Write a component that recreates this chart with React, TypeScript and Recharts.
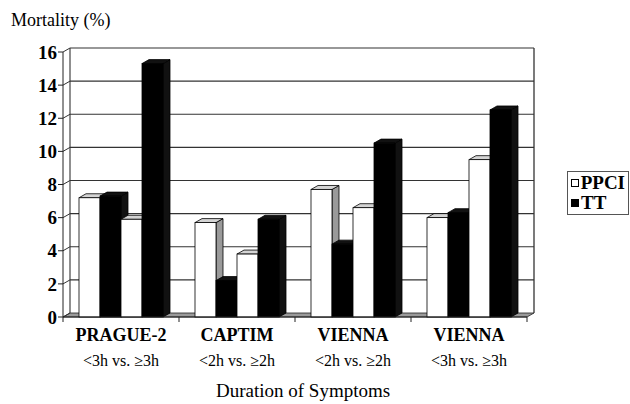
import React from "react";
import { BarChart, Bar, XAxis, YAxis, CartesianGrid } from "recharts";

const studies = ["PRAGUE-2", "CAPTIM", "VIENNA", "VIENNA"];
const cutoffs = ["<3h vs. ≥3h", "<2h vs. ≥2h", "<2h vs. ≥2h", "<3h vs. ≥3h"];
const ppciEarly = [7.2, 5.7, 7.7, 6.0];
const ttEarly = [7.3, 2.2, 4.4, 6.3];
const ppciLate = [5.9, 3.8, 6.6, 9.5];
const ttLate = [15.3, 5.9, 10.5, 12.5];
const yTicks = [0, 2, 4, 6, 8, 10, 12, 14, 16];
const legendNames = ["PPCI", "TT"];

const data = studies.map((s, i) => ({
    name: s + "|" + i,
    ppciEarly: ppciEarly[i],
    ttEarly: ttEarly[i],
    ppciLate: ppciLate[i],
    ttLate: ttLate[i]
}));

const DX = 7;
const DY = 4;
const FONT = "'Times New Roman', 'Liberation Serif', serif";

function box3d(front: string, top: string, side: string) {
    return (props: any) => {
        const { x, y, width: w, height: h } = props;
        if (!h || h <= 0) return <g />;
        return (
            <g>
                <polygon
                    points={`${x + w},${y} ${x + w + DX},${y - DY} ${x + w + DX},${y + h - DY} ${x + w},${y + h}`}
                    fill={side}
                    stroke="#000"
                    strokeWidth={0.8}
                />
                <polygon
                    points={`${x},${y} ${x + DX},${y - DY} ${x + w + DX},${y - DY} ${x + w},${y}`}
                    fill={top}
                    stroke="#000"
                    strokeWidth={0.8}
                />
                <rect x={x} y={y} width={w} height={h} fill={front} stroke="#000" strokeWidth={0.8} />
            </g>
        );
    };
}

// back wall, floor and left wall drawn from the grid's own line positions
function gridLine(props: any) {
    const { x1, x2, y1, x, y, width, height } = props;
    const isBottom = Math.abs(y1 - (y + height)) < 1;
    const isTop = Math.abs(y1 - y) < 1;
    const parts: any[] = [];
    if (isBottom) {
        parts.push(
            <polygon
                key="floor"
                points={`${x1},${y1} ${x1 + DX},${y1 - DY} ${x2 + DX},${y1 - DY} ${x2},${y1}`}
                fill="#9a9a9a"
                stroke="#222"
                strokeWidth={0.8}
            />
        );
        for (let k = 0; k <= studies.length; k++) {
            const tx = x + (k * width) / studies.length;
            parts.push(<line key={"t" + k} x1={tx} y1={y1} x2={tx} y2={y1 + 5} stroke="#222" strokeWidth={1} />);
        }
    } else {
        parts.push(<line key="l" x1={x1 + DX} y1={y1 - DY} x2={x2 + DX} y2={y1 - DY} stroke="#333" strokeWidth={1.1} />);
    }
    parts.push(<line key="d" x1={x1} y1={y1} x2={x1 + DX} y2={y1 - DY} stroke="#333" strokeWidth={1} />);
    if (isTop) {
        parts.push(<line key="bl" x1={x1 + DX} y1={y1 - DY} x2={x1 + DX} y2={y + height - DY} stroke="#333" strokeWidth={1.1} />);
        parts.push(<line key="br" x1={x2 + DX} y1={y1 - DY} x2={x2 + DX} y2={y + height - DY} stroke="#333" strokeWidth={1.3} />);
    }
    return <g key={props.key}>{parts}</g>;
}

function CategoryTick(props: any) {
    const { x, y, index } = props;
    return (
        <g>
            <text x={x} y={y + 24} textAnchor="middle" fontFamily={FONT} fontWeight="bold" fontSize={18} fill="#000">
                {studies[index]}
            </text>
            <text x={x} y={y + 49} textAnchor="middle" fontFamily={FONT} fontSize={16} fill="#000">
                {cutoffs[index]}
            </text>
        </g>
    );
}

function LegendBox() {
    const marks = ["#fff", "#000"];
    return (
        <div
            style={{
                position: "absolute",
                left: 567,
                top: 171,
                width: 54,
                border: "1px solid #555",
                padding: "1px 3px 1px 3px",
                background: "#fff",
                fontFamily: FONT,
                fontWeight: "bold",
                fontSize: 19,
                lineHeight: "20px",
                color: "#000"
            }}
        >
            {legendNames.map((n, i) => (
                <div key={n} style={{ display: "flex", alignItems: "center" }}>
                    <span
                        style={{
                            display: "inline-block",
                            width: 6,
                            height: 6,
                            border: "1px solid #000",
                            background: marks[i],
                            marginRight: 2
                        }}
                    />
                    {n}
                </div>
            ))}
        </div>
    );
}

export default function App() {
    return (
        <div style={{ position: "absolute", left: 0, top: 0, width: 630, height: 404, background: "#fff" }}>
            <div
                style={{
                    position: "absolute",
                    left: 11,
                    top: 11,
                    fontFamily: FONT,
                    fontSize: 18,
                    lineHeight: 1,
                    color: "#000"
                }}
            >
                Mortality (%)
            </div>
            <BarChart
                width={630}
                height={404}
                data={data}
                barSize={21}
                barGap={0}
                margin={{ top: 52, right: 103, bottom: 27, left: 0 }}
            >
                <CartesianGrid vertical={false} horizontal={gridLine} />
                <XAxis
                    dataKey="name"
                    height={60}
                    tickSize={0}
                    tickMargin={0}
                    tickLine={false}
                    axisLine={{ stroke: "#222", strokeWidth: 1 }}
                    tick={<CategoryTick />}
                    interval={0}
                />
                <YAxis
                    width={63}
                    domain={[0, 16]}
                    ticks={yTicks}
                    interval={0}
                    tickSize={5}
                    tickMargin={1}
                    axisLine={{ stroke: "#222", strokeWidth: 1 }}
                    tickLine={{ stroke: "#222" }}
                    tick={{ fontFamily: FONT, fontWeight: "bold", fontSize: 19, fill: "#000" }}
                />
                <Bar dataKey="ppciEarly" fill="#fff" isAnimationActive={false} shape={box3d("#fff", "#d4d4d4", "#9a9a9a")} />
                <Bar dataKey="ttEarly" fill="#000" isAnimationActive={false} shape={box3d("#000", "#111", "#111")} />
                <Bar dataKey="ppciLate" fill="#fff" isAnimationActive={false} shape={box3d("#fff", "#d4d4d4", "#9a9a9a")} />
                <Bar dataKey="ttLate" fill="#000" isAnimationActive={false} shape={box3d("#000", "#111", "#111")} />
            </BarChart>
            <LegendBox />
            <div
                style={{
                    position: "absolute",
                    left: 216,
                    top: 381,
                    fontFamily: FONT,
                    fontSize: 19,
                    lineHeight: 1,
                    color: "#000"
                }}
            >
                Duration of Symptoms
            </div>
        </div>
    );
}
